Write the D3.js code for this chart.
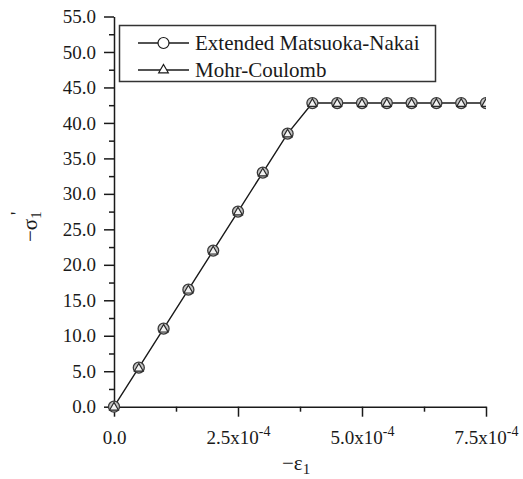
<!DOCTYPE html>
<html>
<head>
<meta charset="utf-8">
<script src="https://cdn.jsdelivr.net/npm/d3@7"></script>
</head>
<body style="margin:0">
<script>
// data
const strain = [0, 0.5e-4, 1.0e-4, 1.5e-4, 2.0e-4, 2.5e-4, 3.0e-4, 3.5e-4,
  4.0e-4, 4.5e-4, 5.0e-4, 5.5e-4, 6.0e-4, 6.5e-4, 7.0e-4, 7.5e-4];
const matsuokaNakai = [0, 5.5, 11.0, 16.5, 22.0, 27.5, 33.0, 38.5,
  42.8, 42.8, 42.8, 42.8, 42.8, 42.8, 42.8, 42.8];
const mohrCoulomb = [0, 5.5, 11.0, 16.5, 22.0, 27.5, 33.0, 38.5,
  42.8, 42.8, 42.8, 42.8, 42.8, 42.8, 42.8, 42.8];
const yTicks = [0, 5, 10, 15, 20, 25, 30, 35, 40, 45, 50, 55];
const yMinor = [2.5, 7.5, 12.5, 17.5, 22.5, 27.5, 32.5, 37.5, 42.5, 47.5, 52.5];
const xTicks = [0, 2.5e-4, 5.0e-4, 7.5e-4];
const xTickLabels = ['0.0', '2.5x10', '5.0x10', '7.5x10'];
const xMinor = [1.25e-4, 3.75e-4, 6.25e-4];
const legendLabels = ['Extended Matsuoka-Nakai', 'Mohr-Coulomb'];

const width = 523;
const height = 479;
const ink = '#1a1a1a';
const serif = "'Liberation Serif', Tinos, 'Times New Roman'";

const svg = d3.select('body')
  .append('svg')
  .attr('width', width)
  .attr('height', height)
  .style('font-family', serif);

const x = d3.scaleLinear().domain([0, 7.5e-4]).range([114, 486]);
const y = d3.scaleLinear().domain([0, 55]).range([406.7, 16.5]);

svg.append('defs').append('clipPath')
  .attr('id', 'plot')
  .append('rect')
  .attr('x', x(0) - 8).attr('y', y(55))
  .attr('width', x(7.5e-4) - x(0) + 8)
  .attr('height', y(0) - y(55) + 8);

// y axis
svg.append('g')
  .attr('transform', `translate(${x(0)},0)`)
  .call(d3.axisLeft(y).tickValues(yTicks).tickSize(10).tickSizeOuter(0)
    .tickPadding(8).tickFormat(d3.format('.1f')));
svg.append('g')
  .attr('transform', `translate(${x(0)},0)`)
  .call(d3.axisLeft(y).tickValues(yMinor).tickSize(5).tickFormat(''))
  .select('.domain').remove();

// x axis
const xAxis = svg.append('g')
  .attr('transform', `translate(0,${y(0)})`)
  .call(d3.axisBottom(x).tickValues(xTicks).tickSize(10).tickSizeOuter(0)
    .tickPadding(14).tickFormat((d, i) => xTickLabels[i]));
svg.append('g')
  .attr('transform', `translate(0,${y(0)})`)
  .call(d3.axisBottom(x).tickValues(xMinor).tickSize(5).tickFormat(''))
  .select('.domain').remove();

// d3 axes put a sans-serif font on their groups; drop it
svg.selectAll('g').attr('font-family', null).attr('font-size', null);

svg.selectAll('.domain, .tick line')
  .attr('stroke', ink)
  .attr('stroke-width', 1.5);
svg.selectAll('.tick text')
  .attr('font-size', 19);

// exponent on the x tick labels
xAxis.selectAll('.tick text')
  .filter((d) => d !== 0)
  .append('tspan')
  .attr('dy', '-0.55em')
  .attr('font-size', 14)
  .text('-4');

// axis titles
const yTitle = svg.append('g')
  .attr('transform', 'translate(37,242) rotate(-90)');
yTitle.append('text')
  .attr('font-size', 21)
  .text('\u2212\u03c3')
  .append('tspan')
  .attr('dy', 4)
  .attr('font-size', 15)
  .text('1');
yTitle.append('text')
  .attr('x', 27).attr('y', -13)
  .attr('font-size', 18)
  .text('\'');

svg.append('text')
  .attr('x', 282).attr('y', 470)
  .attr('font-size', 21)
  .text('\u2212\u03b5')
  .append('tspan')
  .attr('dy', 4)
  .attr('font-size', 15)
  .text('1');

// data
const plot = svg.append('g').attr('clip-path', 'url(#plot)');
const line = d3.line()
  .x((d, i) => x(strain[i]))
  .y((d) => y(d));

plot.append('path')
  .datum(matsuokaNakai)
  .attr('d', line)
  .attr('fill', 'none')
  .attr('stroke', ink)
  .attr('stroke-width', 1.4);

plot.selectAll('circle.mn')
  .data(matsuokaNakai)
  .enter()
  .append('circle')
  .attr('class', 'mn')
  .attr('cx', (d, i) => x(strain[i]))
  .attr('cy', (d) => y(d))
  .attr('r', 5.5)
  .attr('fill', '#c4c4c4')
  .attr('stroke', '#3a3a3a')
  .attr('stroke-width', 1.3);

const tri = d3.symbol().type(d3.symbolTriangle).size(34);
plot.selectAll('path.mc')
  .data(mohrCoulomb)
  .enter()
  .append('path')
  .attr('class', 'mc')
  .attr('d', tri)
  .attr('transform', (d, i) => `translate(${x(strain[i])},${y(d) + 0.8})`)
  .attr('fill', '#f2f2f2')
  .attr('stroke', '#2a2a2a')
  .attr('stroke-width', 1.2);

// legend
const legend = svg.append('g');
legend.append('rect')
  .attr('x', 119.5).attr('y', 25.5)
  .attr('width', 316).attr('height', 56)
  .attr('fill', '#fff')
  .attr('stroke', '#333')
  .attr('stroke-width', 1.5);

const rows = legend.selectAll('g.row')
  .data(legendLabels)
  .enter()
  .append('g')
  .attr('class', 'row')
  .attr('transform', (d, i) => `translate(0,${43 + i * 27})`);

rows.append('line')
  .attr('x1', 138).attr('x2', 189)
  .attr('stroke', ink)
  .attr('stroke-width', 1.3);
rows.filter((d, i) => i === 0).append('circle')
  .attr('cx', 163.5).attr('r', 5.5)
  .attr('fill', '#fff')
  .attr('stroke', ink)
  .attr('stroke-width', 1.2);
rows.filter((d, i) => i === 1).append('path')
  .attr('d', d3.symbol().type(d3.symbolTriangle).size(40))
  .attr('transform', 'translate(163.5,0)')
  .attr('fill', '#fff')
  .attr('stroke', ink)
  .attr('stroke-width', 1.2);
rows.append('text')
  .attr('x', 195).attr('y', 7)
  .attr('font-size', 21)
  .text((d) => d);

svg.selectAll('text')
  .style('font-family', serif)
  .attr('fill', ink);
</script>
</body>
</html>
